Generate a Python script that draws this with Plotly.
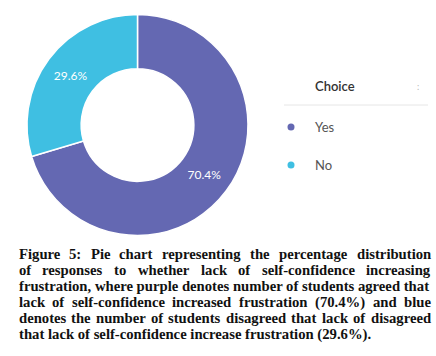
import plotly.graph_objects as go

# ---- data ----
labels = ["Yes", "No"]
values = [70.4, 29.6]
colors = ["#6468B2", "#3FBFE2"]
legend_title = "Choice"

caption_lines = [
    "Figure 5: Pie chart representing the percentage distribution",
    "of  responses to whether lack of self-confidence increasing",
    "frustration, where purple denotes number of students agreed that",
    "lack of self-confidence increased frustration (70.4%) and blue",
    "denotes the number of students disagreed that lack of disagreed",
    "that lack of self-confidence increase frustration (29.6%).",
]
justified = [True, True, False, True, True, False]

# ---- layout helpers (pixel -> paper) ----
W, H = 436, 356
def px(x):
    return x / W
def py(y):
    return 1 - y / H

# approximate advance widths (1/1000 em) of a Times-metric bold serif
ADV = {
    " ": 250, "!": 333, "(": 333, ")": 333, "%": 1000, ",": 250, "-": 333, ".": 250, ":": 333,
    "0": 500, "1": 500, "2": 500, "3": 500, "4": 500, "5": 500, "6": 500, "7": 500, "8": 500, "9": 500,
    "F": 611, "P": 611,
    "a": 500, "b": 556, "c": 444, "d": 556, "e": 444, "f": 333, "g": 500, "h": 556, "i": 278,
    "j": 333, "k": 556, "l": 278, "m": 833, "n": 556, "o": 500, "p": 556, "q": 556, "r": 444,
    "s": 389, "t": 333, "u": 556, "v": 500, "w": 722, "x": 500, "y": 500, "z": 444,
}
CAP_SIZE = 14.7
def text_w(s):
    return sum(ADV.get(c, 500) for c in s) / 1000 * CAP_SIZE

left_edge, right_edge = 16.7, 429
line_y = [253.5, 269.5, 285.5, 302, 318, 334]

fig = go.Figure()
fig.add_trace(go.Pie(
    labels=labels,
    values=values,
    hole=0.51,
    sort=False,
    direction="clockwise",
    rotation=0,
    marker=dict(colors=colors, line=dict(color="white", width=1.5)),
    textinfo="percent",
    texttemplate="%{percent:.1%}",
    textposition="inside",
    insidetextorientation="horizontal",
    textfont=dict(family="Lato", size=12, color="white"),
    domain=dict(x=[px(27), px(248)], y=[py(236), py(14)]),
    showlegend=False,
    hoverinfo="skip",
))

annotations = []
shapes = []

# legend header
annotations.append(dict(x=px(313), y=py(86), xref="paper", yref="paper", text=legend_title,
                        showarrow=False, xanchor="left", yanchor="middle",
                        font=dict(family="Lato", size=13, color="#333333", weight=600)))
annotations.append(dict(x=px(418), y=py(86), xref="paper", yref="paper", text=":",
                        showarrow=False, xanchor="center", yanchor="middle",
                        font=dict(family="Lato", size=9, color="#b8b8b8")))
shapes.append(dict(type="line", xref="paper", yref="paper", x0=px(284), x1=px(428),
                   y0=py(105), y1=py(105), line=dict(color="#e6e6e6", width=1)))

legend_y = [127, 165]
for lab, col, ly in zip(labels, colors, legend_y):
    shapes.append(dict(type="circle", xref="paper", yref="paper",
                       x0=px(291 - 3.5), x1=px(291 + 3.5), y0=py(ly + 3.5), y1=py(ly - 3.5),
                       fillcolor=col, line=dict(width=0)))
    annotations.append(dict(x=px(313), y=py(ly), xref="paper", yref="paper", text=lab,
                            showarrow=False, xanchor="left", yanchor="middle",
                            font=dict(family="Lato", size=13, color="#555555")))

# caption: justified lines are laid out word by word
cap_font = dict(family="Liberation Serif", size=CAP_SIZE, color="#111111")
for line, just, yy in zip(caption_lines, justified, line_y):
    if just:
        words = line.split()
        widths = [text_w(w) for w in words]
        gap = (right_edge - left_edge - sum(widths)) / (len(words) - 1)
        x = left_edge
        for w, wd in zip(words, widths):
            annotations.append(dict(x=px(x), y=py(yy), xref="paper", yref="paper",
                                    text="<b>" + w + "</b>", showarrow=False,
                                    xanchor="left", yanchor="middle", font=cap_font))
            x += wd + gap
    else:
        annotations.append(dict(x=px(left_edge), y=py(yy), xref="paper", yref="paper",
                                text="<b>" + line + "</b>", showarrow=False,
                                xanchor="left", yanchor="middle", font=cap_font))

fig.update_layout(
    width=W, height=H,
    margin=dict(l=0, r=0, t=0, b=0, pad=0),
    paper_bgcolor="white",
    plot_bgcolor="white",
    annotations=annotations,
    shapes=shapes,
)

fig.write_html("out.html", config={"displayModeBar": False},
               post_script="document.body.style.margin='0';")
